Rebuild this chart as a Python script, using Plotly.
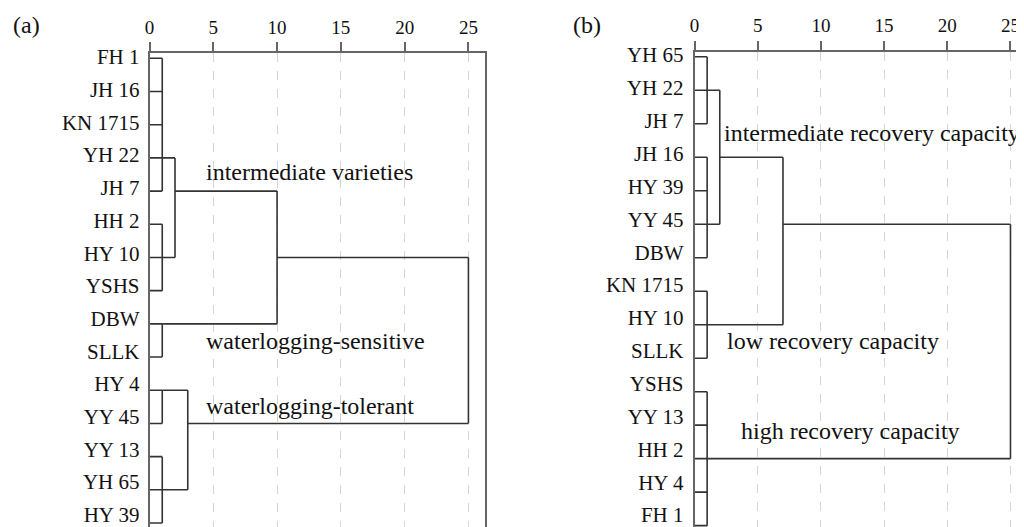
import plotly.graph_objects as go

# ---------------- data ----------------
# Panel (a)
A_LEAVES = ["FH 1", "JH 16", "KN 1715", "YH 22", "JH 7", "HH 2", "HY 10", "YSHS",
            "DBW", "SLLK", "HY 4", "YY 45", "YY 13", "YH 65", "HY 39"]
# merge nodes (ids continue after the leaves: 15, 16, ...)
A_HEIGHTS = [1.0, 1.0, 2.0, 1.0, 10.0, 1.0, 1.0, 3.0, 25.0]
A_CHILDREN = [[0, 1, 2, 3, 4], [5, 6, 7], [15, 16], [8, 9], [17, 18],
              [10, 11], [12, 13, 14], [20, 21], [19, 22]]
A_OUT_ROW = [3, 6, 4, 8, 6, 10, 13, 11, None]
A_LABELS = ["intermediate varieties", "waterlogging-sensitive", "waterlogging-tolerant"]
A_LABEL_X = [4.3, 4.3, 4.3]
A_LABEL_ROW = [3.42, 8.52, 10.47]

# Panel (b)
B_LEAVES = ["YH 65", "YH 22", "JH 7", "JH 16", "HY 39", "YY 45", "DBW", "KN 1715",
            "HY 10", "SLLK", "YSHS", "YY 13", "HH 2", "HY 4", "FH 1"]
B_HEIGHTS = [1.0, 1.0, 2.0, 1.0, 7.0, 1.0, 25.0]
B_CHILDREN = [[0, 1, 2], [3, 4, 5, 6], [15, 16], [7, 8, 9], [17, 18],
              [10, 11, 12, 13, 14], [19, 20]]
B_OUT_ROW = [1, 5, 3, 8, 5, 12, None]
B_LABELS = ["intermediate recovery capacity", "low recovery capacity", "high recovery capacity"]
B_LABEL_X = [2.2, 2.4, 3.5]
B_LABEL_ROW = [2.28, 8.49, 11.17]

X_TICKS = [0, 5, 10, 15, 20, 25]

# page body has an 8px default margin, so the figure is drawn 8px smaller
OFF = 8
W, H = 1024 - OFF, 527 - OFF
SERIF = "Liberation Serif, Times New Roman, serif"
LINE_COLOR = "#333333"
FRAME_COLOR = "#666666"
# leaf names in the source sit on a slightly tighter pitch than the leaf lines
A_NAME_PITCH, A_NAME_START = 0.985, -0.04
B_NAME_PITCH, B_NAME_START = 0.981, -0.05


def px_x(p):
    return (p - OFF) / W


def px_y(p):
    return 1 - (p - OFF) / H


def dendro_segments(leaves, heights, children, out_rows):
    n = len(leaves)

    def node(i):
        if i < n:
            return 0.0, i
        return heights[i - n], out_rows[i - n]

    xs, ys = [], []
    for k, ch in enumerate(children):
        h = heights[k]
        rows = []
        for c in ch:
            ch_h, ch_r = node(c)
            rows.append(ch_r)
            xs += [ch_h, h, None]
            ys += [ch_r, ch_r, None]
        xs += [h, h, None]
        ys += [min(rows), max(rows), None]
    return xs, ys


fig = go.Figure()

xa, ya = dendro_segments(A_LEAVES, A_HEIGHTS, A_CHILDREN, A_OUT_ROW)
fig.add_trace(go.Scatter(x=xa, y=ya, mode="lines", xaxis="x", yaxis="y",
                         line=dict(color=LINE_COLOR, width=1.6), hoverinfo="skip",
                         showlegend=False))
xb, yb = dendro_segments(B_LEAVES, B_HEIGHTS, B_CHILDREN, B_OUT_ROW)
fig.add_trace(go.Scatter(x=xb, y=yb, mode="lines", xaxis="x2", yaxis="y2",
                         line=dict(color=LINE_COLOR, width=1.6), hoverinfo="skip",
                         showlegend=False))

a_name_pos = [A_NAME_START + A_NAME_PITCH * i for i in range(len(A_LEAVES))]
b_name_pos = [B_NAME_START + B_NAME_PITCH * i for i in range(len(B_LEAVES))]
# invisible carriers so the label axes get drawn
fig.add_trace(go.Scatter(x=[0] * len(A_LEAVES), y=a_name_pos, mode="markers",
                         xaxis="x", yaxis="y3", marker=dict(opacity=0, size=1),
                         hoverinfo="skip", showlegend=False))
fig.add_trace(go.Scatter(x=[0] * len(B_LEAVES), y=b_name_pos, mode="markers",
                         xaxis="x2", yaxis="y4", marker=dict(opacity=0, size=1),
                         hoverinfo="skip", showlegend=False))

annotations = []
for t, x, r in zip(A_LABELS, A_LABEL_X, A_LABEL_ROW):
    annotations.append(dict(text=t, x=x, y=r, xref="x", yref="y", xanchor="left",
                            yanchor="middle", showarrow=False,
                            font=dict(family=SERIF, size=24, color="#111")))
for t, x, r in zip(B_LABELS, B_LABEL_X, B_LABEL_ROW):
    annotations.append(dict(text=t, x=x, y=r, xref="x2", yref="y2", xanchor="left",
                            yanchor="middle", showarrow=False,
                            font=dict(family=SERIF, size=24, color="#111")))
for t, px in [("(a)", 11), ("(b)", 571)]:
    annotations.append(dict(text=t, x=px_x(px), y=px_y(25), xref="paper", yref="paper",
                            xanchor="left", yanchor="middle", showarrow=False,
                            font=dict(family=SERIF, size=24, color="#111")))

xcommon = dict(side="top", tickvals=X_TICKS, ticktext=[str(v) for v in X_TICKS],
               showline=True, linecolor=FRAME_COLOR, linewidth=1.5, mirror=False,
               ticks="outside", ticklen=9, tickwidth=1.5, tickcolor=FRAME_COLOR,
               showgrid=True, gridcolor="#d4d4d4", griddash="dash", gridwidth=1,
               zeroline=False, automargin=False, ticklabelstandoff=1,
               tickfont=dict(family=SERIF, size=19, color="#111"))
ycommon = dict(showline=True, linecolor=FRAME_COLOR, linewidth=1.5, ticks="",
               showgrid=False, zeroline=False, automargin=False,
               showticklabels=False)
ylabels = dict(showline=False, ticks="", showgrid=False, zeroline=False,
               automargin=False, ticklabelstandoff=9, side="left",
               showticklabels=True, ticklabeloverflow="allow",
               tickfont=dict(family=SERIF, size=21, color="#111"))

A_RANGE = [14.12, -0.16]
B_RANGE = [14.04, -0.15]

fig.update_layout(
    width=W, height=H,
    margin=dict(l=0, r=0, t=0, b=0),
    template="none",
    paper_bgcolor="white", plot_bgcolor="white",
    showlegend=False,
    xaxis=dict(xcommon, domain=[px_x(149.5), px_x(485)], range=[0, 26.3], anchor="y"),
    yaxis=dict(ycommon, domain=[0, px_y(53)], range=A_RANGE, anchor="x", mirror=True),
    yaxis3=dict(ylabels, overlaying="y", anchor="x", range=A_RANGE,
                tickvals=a_name_pos, ticktext=A_LEAVES),
    xaxis2=dict(xcommon, domain=[px_x(694.5), 1.0], range=[0, 26.07], anchor="y2"),
    yaxis2=dict(ycommon, domain=[0, px_y(51.7)], range=B_RANGE, anchor="x2", mirror=False),
    yaxis4=dict(ylabels, overlaying="y2", anchor="x2", range=B_RANGE,
                tickvals=b_name_pos, ticktext=B_LEAVES, ticklabelstandoff=10),
    annotations=annotations,
)

fig.write_html("out.html")
